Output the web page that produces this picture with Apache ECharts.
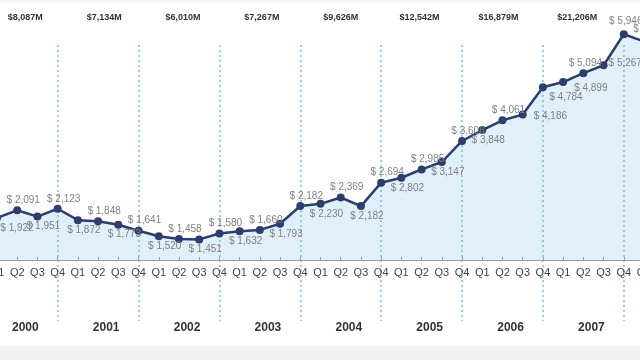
<!DOCTYPE html>
<html>
<head>
<meta charset="utf-8">
<script src="https://cdn.jsdelivr.net/npm/echarts@6/dist/echarts.min.js"></script>
<style>
  html, body { margin: 0; padding: 0; background: #fff; }
  #chart { width: 640px; height: 360px;
    background: linear-gradient(to bottom, #f2f2f2 0px, #ffffff 4px, #ffffff 346px, #f0f0f0 346px, #f0f0f0 360px); }
</style>
</head>
<body>
<div id="chart"></div>
<script>
// ---- data ----
var quarters = ['Q1','Q2','Q3','Q4','Q1','Q2','Q3','Q4','Q1','Q2','Q3','Q4','Q1','Q2','Q3','Q4',
                'Q1','Q2','Q3','Q4','Q1','Q2','Q3','Q4','Q1','Q2','Q3','Q4','Q1','Q2','Q3','Q4','Q1'];
var revenue = [1922, 2091, 1951, 2123,   // 2000
               1872, 1848, 1773, 1641,   // 2001
               1520, 1458, 1451, 1580,   // 2002
               1632, 1660, 1793, 2182,   // 2003
               2230, 2369, 2182, 2694,   // 2004
               2802, 2985, 3147, 3608,   // 2005
               3848, 4061, 4186, 4784,   // 2006
               4899, 5094, 5267, 5946,   // 2007
               5790];                    // 2008 Q1 (cut off)
var years = ['2000','2001','2002','2003','2004','2005','2006','2007'];
var annualTotals = ['$8,087M','$7,134M','$6,010M','$7,267M','$9,626M','$12,542M','$16,879M','$21,206M'];

// centre of each year band / total label, in quarter-index units
var yearCenters = years.map(function (y, k) { return 4 * k + 1.4; });
var totalCenters = years.map(function (y, k) { return 4 * k + 1.4 - 0.1 * k; });

function fmt(v) { return '$ ' + v.toLocaleString('en-US'); }

// label placement style per point (above for Q2/Q4, below for Q1/Q3)
var labelOverrides = {
  0:  { position: 'bottom', offset: [20, 0] },
  26: { position: 'right', offset: [6, 2] },
  27: { position: 'bottom', offset: [23, 0] },
  28: { position: 'right', offset: [6, 6] },
  29: { position: 'top', offset: [2, 0] },
  30: { position: 'right', offset: [0, -2] },
  31: { position: 'top', offset: [2, -3] },
  32: { position: 'top', offset: [6, -2] }
};
var seriesData = revenue.map(function (v, i) {
  var q = i % 4;
  var lab = labelOverrides[i] || { position: (q === 1 || q === 3) ? 'top' : 'bottom', offset: [6, 0] };
  return { value: v, label: { position: lab.position, offset: lab.offset } };
});

function nearestIndex(arr, v) {
  var best = 0;
  for (var i = 1; i < arr.length; i++) if (Math.abs(arr[i] - v) < Math.abs(arr[best] - v)) best = i;
  return best;
}

var chart = echarts.init(document.getElementById('chart'), null, { renderer: 'canvas' });
var option = {
  animation: false,
  backgroundColor: 'transparent',
  grid: [
    { left: -3, right: -4, top: 9, bottom: 100, containLabel: false, outerBoundsMode: 'none' },
    { left: -3, right: -4, top: 45, bottom: 39, containLabel: false, outerBoundsMode: 'none' }
  ],
  xAxis: [
    { // quarter axis
      gridIndex: 0, type: 'category', data: quarters, boundaryGap: false,
      axisLine: { show: true, lineStyle: { color: '#9a9a9a', width: 1 } },
      axisTick: { show: true, inside: true, length: 3, lineStyle: { color: '#9a9a9a' } },
      axisLabel: { color: '#444', fontSize: 11, fontFamily: 'Liberation Sans, Arial, sans-serif', margin: 7, interval: 0 },
      splitLine: { show: false }
    },
    { // year separators
      gridIndex: 1, type: 'category', data: quarters, boundaryGap: false,
      axisLine: { show: false }, axisTick: { show: false }, axisLabel: { show: false },
      splitLine: { show: true, interval: function (idx) { return idx % 4 === 3; },
        lineStyle: { color: '#7dbde3', type: [2, 3], width: 1.5 } }
    },
    { // year names
      gridIndex: 1, type: 'value', min: 0, max: quarters.length - 1, position: 'bottom',
      axisLine: { show: false }, axisTick: { show: false }, splitLine: { show: false },
      axisLabel: { customValues: yearCenters, margin: 1, color: '#333', fontSize: 12, fontWeight: 'bold',
        fontFamily: 'Liberation Sans, Arial, sans-serif',
        formatter: function (v) { return years[nearestIndex(yearCenters, v)]; } }
    },
    { // annual totals
      gridIndex: 1, type: 'value', min: 0, max: quarters.length - 1, position: 'top',
      axisLine: { show: false }, axisTick: { show: false }, splitLine: { show: false },
      axisLabel: { customValues: totalCenters, margin: 23, color: '#333', fontSize: 9, fontWeight: 'bold',
        fontFamily: 'Liberation Sans, Arial, sans-serif',
        formatter: function (v) { return annualTotals[nearestIndex(totalCenters, v)]; } }
    }
  ],
  yAxis: [
    { gridIndex: 0, type: 'value', min: 1000, max: 6500, show: false, splitLine: { show: false } },
    { gridIndex: 1, type: 'value', show: false, splitLine: { show: false } }
  ],
  series: [{
    type: 'line', xAxisIndex: 0, yAxisIndex: 0,
    data: seriesData,
    symbol: 'circle', symbolSize: 8,
    lineStyle: { color: '#2b3e6c', width: 2.5 },
    itemStyle: { color: '#2b3e6c' },
    areaStyle: { color: 'rgba(115,185,230,0.32)', origin: 'start' },
    label: { show: true, distance: 1, color: '#808080', fontSize: 10,
      fontFamily: 'Liberation Sans, Arial, sans-serif',
      formatter: function (p) { return fmt(p.value); } },
    z: 3
  }]
};
chart.setOption(option);
</script>
</body>
</html>
